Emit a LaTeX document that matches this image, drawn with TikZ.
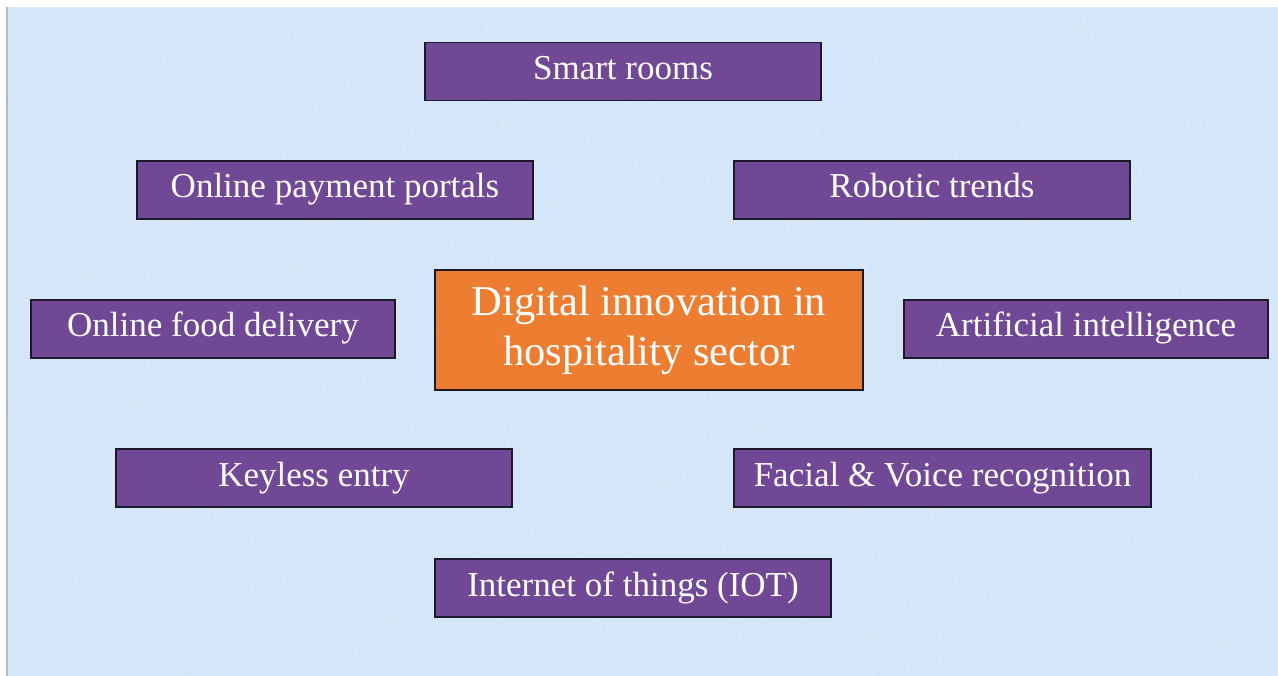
\documentclass[tikz,border=0pt]{standalone}
\usepackage{fontspec}
\setmainfont{Liberation Serif}
\definecolor{paperblue}{RGB}{212,230,247}
\definecolor{boxpurple}{RGB}{112,72,150}
\definecolor{huborange}{RGB}{237,125,49}
\definecolor{edgedark}{RGB}{28,26,42}

\begin{document}
\begin{tikzpicture}[x=1pt,y=-1pt]
        \tikzset{
        item/.style={rectangle, fill=boxpurple, draw=edgedark, line width=1.5pt,
        text=white, inner sep=0pt, minimum height=58pt, minimum width=396pt,
        text height=24pt, text depth=8pt,
        font=\fontsize{35}{42}\selectfont},
        hub/.style={item, fill=huborange, minimum height=120pt, minimum width=428pt,
        text height=, text depth=,
        align=center, font=\fontsize{42.5}{50}\selectfont},
        grain/.style={white, opacity=0.28, line width=0.7pt}
        }
        \useasboundingbox (0,0) rectangle (1278,676);
        % paper background
        \fill[white] (0,0) rectangle (1278,676);
        \fill[paperblue] (7,7) rectangle (1278,676);
        \pgfmathsetseed{7}
        \foreach \i in {1,...,700}{
          \pgfmathsetmacro{\px}{10+1265*rnd}
          \pgfmathsetmacro{\py}{10+663*rnd}
          \draw[grain] (\px,\py) .. controls ++(16*rnd-8,16*rnd-8) and ++(16*rnd-8,16*rnd-8) .. ++(30*rnd-15,30*rnd-15);
        }
        \draw[gray!55, line width=2pt] (7,7) -- (7,676);

        \node[item] (rooms) at (623,71.5) {Smart rooms};
        \node[item] (payment) at (335,190) {Online payment portals};
        \node[item] (robots) at (932,190) {Robotic trends};
        \node[item, minimum width=364pt] (food) at (213,329) {Online food delivery};
        \node[hub] (hub) at (649,330) {Digital innovation in\\hospitality sector};
        \node[item, minimum width=364pt] (ai) at (1086,329) {Artificial intelligence};
        \node[item] (keyless) at (314,478) {Keyless entry};
        \node[item, minimum width=417pt] (faces) at (942.5,478) {Facial \& Voice recognition};
        \node[item] (iot) at (633,588) {Internet of things (IOT)};
\end{tikzpicture}
\end{document}
